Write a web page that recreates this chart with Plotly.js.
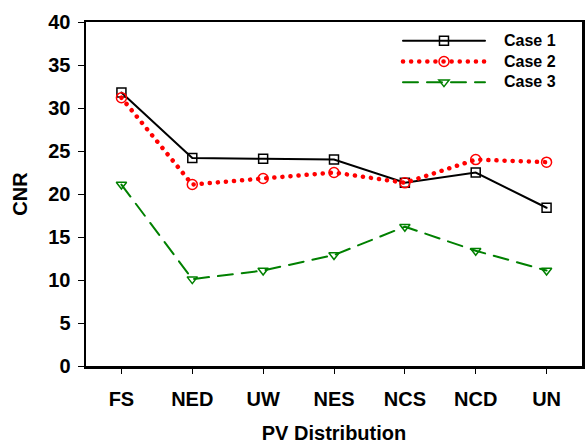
<!DOCTYPE html>
<html>
<head>
<meta charset="utf-8">
<script src="https://cdn.plot.ly/plotly-3.0.1.min.js"></script>
<style>
html,body{margin:0;padding:0;background:#fff;}
#chart{width:587px;height:444px;}
.js-line{stroke-linecap:round;}
.legend .scrollbox{clip-path:none !important;}
.legend .legendtext{transform:translate(14px,0);font-size:16px !important;}
</style>
</head>
<body>
<div id="chart"></div>
<script>
const categories = ["FS","NED","UW","NES","NCS","NCD","UN"];
const case1 = [31.8, 24.2, 24.1, 24.0, 21.3, 22.5, 18.4];
const case2 = [31.2, 21.1, 21.8, 22.5, 21.3, 24.0, 23.7];
const case3 = [21.1, 10.1, 11.1, 12.9, 16.2, 13.4, 11.1];
const seriesNames = ["Case 1","Case 2","Case 3"];
const yTicks = [0,5,10,15,20,25,30,35,40];

const FONT = "Arial, 'Liberation Sans', sans-serif";

const traces = [
  {x: categories, y: case1, name: seriesNames[0], type: "scatter", mode: "lines+markers",
   line: {color: "#000000", width: 2},
   marker: {symbol: "square-open", size: 9, color: "#000000", line: {width: 1.5}}},
  {x: categories, y: case2, name: seriesNames[1], type: "scatter", mode: "lines+markers",
   line: {color: "#ff0000", width: 4.5, dash: "0.1px,8px"},
   marker: {symbol: "circle-open", size: 10, color: "#ff0000", line: {width: 1.5}}},
  {x: categories, y: case3, name: seriesNames[2], type: "scatter", mode: "lines+markers",
   line: {color: "#008000", width: 2, dash: "15px,9px"},
   marker: {symbol: "triangle-down-open", size: 9, color: "#008000", line: {width: 1.5}}}
];

const layout = {
  width: 587, height: 444,
  margin: {l: 86, r: 5, t: 22, b: 77.5},
  paper_bgcolor: "#ffffff", plot_bgcolor: "#ffffff",
  font: {family: FONT, color: "#000000"},
  showlegend: true,
  legend: {x: 0.629, y: 0.99, xanchor: "left", yanchor: "top",
           bgcolor: "rgba(0,0,0,0)", borderwidth: 0,
           font: {family: FONT, size: 13.6, weight: "bold", color: "#000"},
           itemwidth: 82, tracegroupgap: 0},
  xaxis: {
    type: "category", range: [-0.5, 6.5],
    showgrid: false, zeroline: false,
    showline: true, linecolor: "#000", linewidth: 2.5, mirror: true,
    ticks: "outside", ticklen: 5, tickwidth: 1, tickcolor: "#000",
    ticklabelstandoff: 8,
    tickfont: {family: FONT, size: 20, weight: "bold"},
    title: {text: "PV Distribution", font: {family: FONT, size: 20, weight: "bold"}, standoff: 20}
  },
  yaxis: {
    range: [0, 40], tickvals: yTicks,
    showgrid: false, zeroline: false,
    showline: true, linecolor: "#000", linewidth: 2.5, mirror: true,
    ticks: "outside", ticklen: 6, tickwidth: 1, tickcolor: "#000",
    ticklabelstandoff: 3,
    tickfont: {family: FONT, size: 20, weight: "bold"},
    title: {text: "CNR", font: {family: FONT, size: 20, weight: "bold"}, standoff: 16}
  }
};

Plotly.newPlot("chart", traces, layout, {displayModeBar: false, staticPlot: true});
</script>
</body>
</html>
